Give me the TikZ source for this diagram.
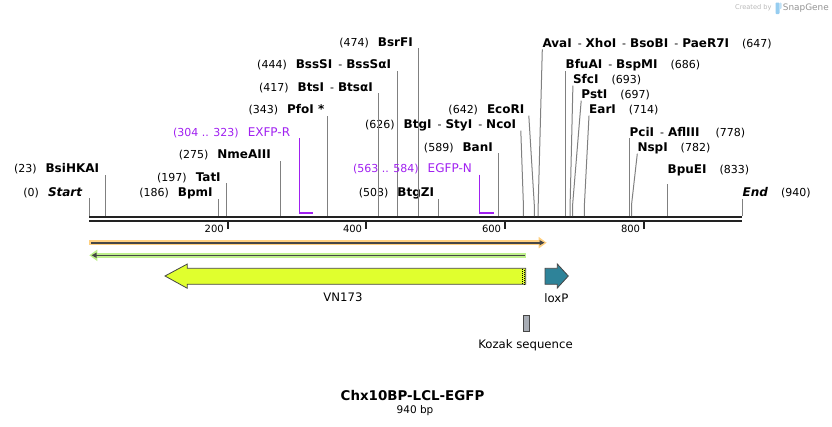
\documentclass[tikz,border=0pt]{standalone}
\usepackage{fontspec}
\setmainfont{DejaVu Sans}
\usepackage{tikz}
\usetikzlibrary{arrows.meta,positioning}
\definecolor{primercolor}{RGB}{160,32,240}
\definecolor{cutline}{RGB}{128,128,128}
\definecolor{axiscolor}{RGB}{34,34,34}
\definecolor{orangeglow}{RGB}{255,208,128}
\definecolor{greenglow}{RGB}{190,240,140}
\definecolor{featline}{RGB}{70,70,70}
\definecolor{vnfill}{RGB}{224,255,46}
\definecolor{loxfill}{RGB}{46,131,153}
\definecolor{kozakfill}{RGB}{168,173,181}
\definecolor{logoblue}{RGB}{150,205,240}
\newcommand{\sitefont}{\fontsize{12}{14}\selectfont}
\newcommand{\posfont}{\fontsize{11}{13}\selectfont}
\newcommand{\posl}[1]{{\posfont(#1)}\hspace{9pt}}
\newcommand{\posr}[1]{\hspace{13pt}{\posfont(#1)}}
\newcommand{\enzsep}{\hspace{6pt}{\posfont-}\hspace{4pt}}

\begin{document}
\begin{tikzpicture}[x=1pt,y=-1pt,
    site/.style={inner sep=0pt, text height=9pt, text depth=2pt, font=\sitefont},
    cut/.style={draw=cutline, line width=1pt},
    primer/.style={draw=primercolor, line width=1.2pt},
    primerbar/.style={draw=primercolor, line width=2pt},
    axis/.style={draw=axiscolor, line width=2pt},
    tick/.style={draw=axiscolor, line width=2pt},
    ticklabel/.style={inner sep=0pt, font=\fontsize{10}{12}\selectfont},
    feat/.style={draw=featline, line width=0.8pt},
    featlabel/.style={inner sep=0pt, font=\fontsize{11.7}{14}\selectfont}
]
    \useasboundingbox (0,0) rectangle (832,426);

    % Watermark
    \node[inner sep=0pt, anchor=west, text=black!28, font=\fontsize{6.6}{8}\selectfont] (created) at (735,7.7) {Created by};
    \fill[logoblue, rounded corners=0.8pt] (775.5,2.5) rectangle (779.5,14);
    \fill[logoblue!60, rounded corners=0.8pt] (779.5,2.5) rectangle (781.5,9);
    \node[inner sep=0pt, anchor=west, text=black!42, font=\fontsize{8.9}{10}\selectfont] (snapgene) at (782.7,7.7) {SnapGene};

    % Sequence axis
    \coordinate (s0) at (89.3,217);
    \coordinate (s940) at (742,217);
    \draw[axis] (s0) -- (s940);
    \draw[axis] (89.3,221) -- (742,221);

    % Ticks
    \draw[tick] (227.7,222) -- (227.7,228.5);
    \node[ticklabel, anchor=east] (t200) at (224,229.3) {200};
    \draw[tick] (366,222) -- (366,228.5);
    \node[ticklabel, anchor=east] (t400) at (362.3,229.3) {400};
    \draw[tick] (505,222) -- (505,228.5);
    \node[ticklabel, anchor=east] (t600) at (501.3,229.3) {600};
    \draw[tick] (644,222) -- (644,228.5);
    \node[ticklabel, anchor=east] (t800) at (640.3,229.3) {800};

    % Sites on the axis
    \coordinate (a0) at (89.3,216);
    \coordinate (a23) at (105.3,216);
    \coordinate (a186) at (218.3,216);
    \coordinate (a197) at (226.4,216);
    \coordinate (a275) at (280.3,216);
    \coordinate (a343) at (327.5,216);
    \coordinate (a417) at (378.4,216);
    \coordinate (a444) at (397.2,216);
    \coordinate (a474) at (418.2,216);
    \coordinate (a503) at (438.2,216);
    \coordinate (a589) at (498.1,216);
    \coordinate (a626) at (523.4,216);
    \coordinate (a642) at (534.3,216);
    \coordinate (a647) at (538.2,216);
    \coordinate (a686) at (565.4,216);
    \coordinate (a693) at (570.1,216);
    \coordinate (a697) at (572.6,216);
    \coordinate (a714) at (584.4,216);
    \coordinate (a778) at (629.1,216);
    \coordinate (a782) at (631.5,216);
    \coordinate (a833) at (667.2,216);
    \coordinate (a940) at (742.3,216);

    % Labels left of their sites
    \node[site, anchor=base east] (Start) at (82.7,196.1) {\posl{0}\textbf{\textit{Start}}};
    \node[site, anchor=base east] (BsiHKAI) at (99.3,172.4) {\posl{23}\textbf{BsiHKAI}};
    \node[site, anchor=base east] (BpmI) at (212.9,196.4) {\posl{186}\textbf{BpmI}};
    \node[site, anchor=base east] (TatI) at (220.9,181.1) {\posl{197}\textbf{TatI}};
    \node[site, anchor=base east] (NmeAIII) at (271,158.4) {\posl{275}\textbf{NmeAIII}};
    \node[site, anchor=base east] (PfoI) at (324.5,113.4) {\posl{343}\textbf{PfoI *}};
    \node[site, anchor=base east] (BtsI) at (373,91.1) {\posl{417}\textbf{BtsI}\enzsep\textbf{BtsαI}};
    \node[site, anchor=base east] (BssSI) at (391.3,68.4) {\posl{444}\textbf{BssSI}\enzsep\textbf{BssSαI}};
    \node[site, anchor=base east] (BsrFI) at (413,46.1) {\posl{474}\textbf{BsrFI}};
    \node[site, anchor=base east] (BtgZI) at (434.3,196.4) {\posl{503}\textbf{BtgZI}};
    \node[site, anchor=base east] (BanI) at (493,151.1) {\posl{589}\textbf{BanI}};
    \node[site, anchor=base east] (BtgI) at (516.3,128.4) {\posl{626}\textbf{BtgI}\enzsep\textbf{StyI}\enzsep\textbf{NcoI}};
    \node[site, anchor=base east] (EcoRI) at (524.5,113.4) {\posl{642}\textbf{EcoRI}};

    % Labels right of their sites
    \node[site, anchor=base west] (AvaI) at (542.3,47.1) {\textbf{AvaI}\enzsep\textbf{XhoI}\enzsep\textbf{BsoBI}\enzsep\textbf{PaeR7I}\posr{647}};
    \node[site, anchor=base west] (BfuAI) at (565.4,68.4) {\textbf{BfuAI}\enzsep\textbf{BspMI}\posr{686}};
    \node[site, anchor=base west] (SfcI) at (572.9,83.4) {\textbf{SfcI}\posr{693}};
    \node[site, anchor=base west] (PstI) at (581.2,98.4) {\textbf{PstI}\posr{697}};
    \node[site, anchor=base west] (EarI) at (589,113.4) {\textbf{EarI}\posr{714}};
    \node[site, anchor=base west] (PciI) at (629.4,136.1) {\textbf{PciI}\enzsep\textbf{AflIII}\hspace{3pt}\posr{778}};
    \node[site, anchor=base west] (NspI) at (637.3,151.4) {\textbf{NspI}\posr{782}};
    \node[site, anchor=base west] (BpuEI) at (667.4,173.4) {\textbf{BpuEI}\posr{833}};
    \node[site, anchor=base west] (End) at (742.5,196.4) {\textbf{\textit{End}}\posr{940}};

    % Site lines
    \draw[cut] (a0) -- (a0 |- Start.south);
    \draw[cut] (a23) -- (a23 |- BsiHKAI.south);
    \draw[cut] (a186) -- (a186 |- BpmI.south);
    \draw[cut] (a197) -- (a197 |- TatI.south);
    \draw[cut] (a275) -- (a275 |- NmeAIII.south);
    \draw[cut] (a343) -- (a343 |- PfoI.south);
    \draw[cut] (a417) -- (a417 |- BtsI.south);
    \draw[cut] (a444) -- (a444 |- BssSI.south);
    \draw[cut] (a474) -- (a474 |- BsrFI.south);
    \draw[cut] (a503) -- (a503 |- BtgZI.south);
    \draw[cut] (a589) -- (a589 |- BanI.south);
    \draw[cut] (a626) -- ++(0,-11) -- ([xshift=4.5pt]BtgI.south east);
    \draw[cut] (a642) -- ++(0,-11) -- ([xshift=4.3pt]EcoRI.south east);
    \draw[cut] (a647) -- ++(0,-11) -- (AvaI.south west);
    \draw[cut] (a686) -- (a686 |- BfuAI.south);
    \draw[cut] (a693) -- ++(0,-11) -- (SfcI.south west);
    \draw[cut] (a697) -- ++(0,-11) -- (PstI.south west);
    \draw[cut] (a714) -- ++(0,-11) -- (EarI.south west);
    \draw[cut] (a778) -- (a778 |- PciI.south);
    \draw[cut] (a782) -- ++(0,-11) -- (NspI.south west);
    \draw[cut] (a833) -- (667.2,184);
    \draw[cut] (a940) -- (a940 |- End.south);

    % Primers
    \node[site, anchor=base east, text=primercolor] (EXFPR) at (290.3,136.1) {{\posfont(304 .. 323)}\hspace{9pt}EXFP-R};
    \coordinate (p304) at (299.6,212.7);
    \coordinate (p323) at (313.3,212.7);
    \draw[primer] (EXFPR.south -| p304) -- (p304);
    \draw[primerbar] ([xshift=-0.6pt]p304) -- (p323);
    \node[site, anchor=base east, text=primercolor] (EGFPN) at (472,172.4) {{\posfont(563 .. 584)}\hspace{9pt}EGFP-N};
    \coordinate (p563) at (479.6,212.7);
    \coordinate (p584) at (494.3,212.7);
    \draw[primer] (EGFPN.south -| p563) -- (p563);
    \draw[primerbar] ([xshift=-0.6pt]p563) -- (p584);

    % Features
    \draw[line width=5.5pt, orangeglow, -{Triangle[length=8pt,width=11pt]}] (89.3,242.7) -- (546.7,242.7);
    \draw[line width=1.6pt, featline, -{Triangle[length=5pt,width=5pt]}] (91,242.7) -- (544.5,242.7);
    \draw[line width=5.5pt, greenglow, {Triangle[length=8pt,width=11pt]}-] (89.3,255.3) -- (525.5,255.3);
    \draw[line width=1.6pt, featline, {Triangle[length=5pt,width=5pt]}-] (91.5,255.3) -- (524.5,255.3);

    % VN173
    \filldraw[feat, fill=vnfill] (165,276) -- (187.3,264) -- (187.3,268.3) -- (525.7,268.3)
        -- (525.7,284.3) -- (187.3,284.3) -- (187.3,288.3) -- cycle;
    \draw[black, line width=0.8pt, dash pattern=on 1pt off 1pt] (522.1,268.8) -- (522.1,284);
    \draw[black, line width=0.8pt, dash pattern=on 1pt off 1pt] (524.3,269.8) -- (524.3,284);
    \node[featlabel] (vn173) at (343,297.5) {VN173};

    % loxP
    \filldraw[feat, fill=loxfill] (545,268.3) -- (557.3,268.3) -- (557.3,264) -- (568.3,276)
        -- (557.3,288) -- (557.3,284.3) -- (545,284.3) -- cycle;
    \node[featlabel] (loxp) at (556.3,297.7) {loxP};

    % Kozak sequence
    \filldraw[feat, fill=kozakfill] (523.3,315.7) rectangle (529.3,331);
    \node[featlabel] (kozak) at (525.5,345) {Kozak sequence};

    % Title
    \node[inner sep=0pt, font=\fontsize{13.4}{16}\selectfont] (title) at (412.5,395) {\textbf{Chx10BP-LCL-EGFP}};
    \node[inner sep=0pt, font=\fontsize{10.5}{12}\selectfont] (length) at (415,411) {940 bp};

\end{tikzpicture}
\end{document}
